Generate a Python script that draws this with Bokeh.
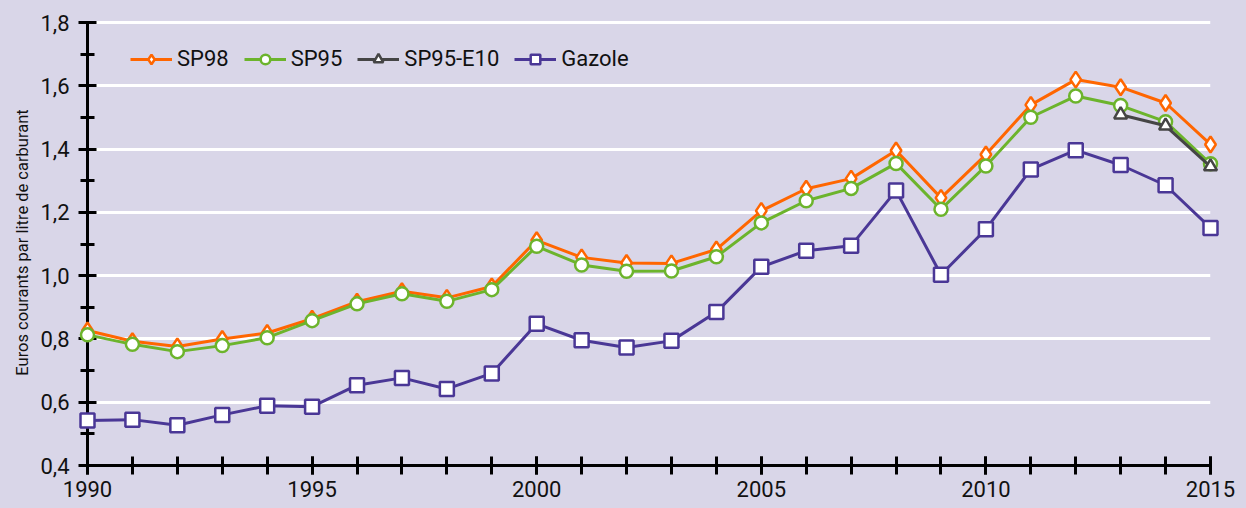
from bokeh.plotting import figure
from bokeh.models import (SingleIntervalTicker, CustomJSTickFormatter, Legend, LegendItem,
                          Range1d, GlobalInlineStyleSheet)
from bokeh.embed import file_html
from bokeh.resources import INLINE

years = list(range(1990, 2016))
sp98 = [0.827, 0.793, 0.776, 0.800, 0.819, 0.864, 0.918, 0.951, 0.930, 0.966,
        1.112, 1.058, 1.040, 1.039, 1.083, 1.205, 1.275, 1.307, 1.396, 1.246,
        1.383, 1.540, 1.620, 1.596, 1.546, 1.415]
sp95 = [0.813, 0.783, 0.760, 0.779, 0.804, 0.858, 0.911, 0.943, 0.919, 0.956,
        1.093, 1.034, 1.014, 1.015, 1.060, 1.167, 1.237, 1.276, 1.355, 1.210,
        1.347, 1.501, 1.568, 1.538, 1.487, 1.354]
e10_years = [2013, 2014, 2015]
sp95_e10 = [1.509, 1.474, 1.345]
gazole = [0.542, 0.545, 0.527, 0.560, 0.589, 0.586, 0.654, 0.677, 0.642, 0.691,
          0.848, 0.796, 0.773, 0.794, 0.885, 1.028, 1.079, 1.095, 1.269, 1.003,
          1.147, 1.336, 1.397, 1.350, 1.286, 1.151]
series_names = ["SP98", "SP95", "SP95-E10", "Gazole"]
y_label = "Euros courants par litre de carburant"

BG = "#D9D6E8"
FONT = "Roboto"
TXT = "#111111"

p = figure(width=1230, height=498, output_backend="svg", toolbar_location=None,
           x_range=Range1d(1990, 2015), y_range=Range1d(0.4, 1.81),
           min_border_left=79, min_border_right=28, min_border_top=11, min_border_bottom=41,
           background_fill_color=BG, border_fill_color=BG, outline_line_color=None)
p.stylesheets = [GlobalInlineStyleSheet(
    css="html, body { background: #D9D6E8; overflow: hidden; } body { margin: 8px 8px 0 8px; }")]

# grid
p.xgrid.grid_line_color = None
p.ygrid.grid_line_color = "white"
p.ygrid.grid_line_width = 3

# axes
xa = p.xaxis[0]
xa.ticker = SingleIntervalTicker(interval=5, num_minor_ticks=5)
xa.bounds = (1990, 2015)
ya = p.yaxis[0]
ya.ticker = SingleIntervalTicker(interval=0.2, num_minor_ticks=2)
ya.bounds = (0.4, 1.8)
ya.formatter = CustomJSTickFormatter(code="return tick.toFixed(1).replace('.', ',');")
for ax in (xa, ya):
    ax.axis_line_color = "black"
    ax.axis_line_width = 3
    ax.major_tick_line_color = "black"
    ax.major_tick_line_width = 3
    ax.minor_tick_line_color = "black"
    ax.minor_tick_line_width = 3
    ax.major_tick_in = 9
    ax.major_tick_out = 9
    ax.major_label_text_font = FONT
    ax.major_label_text_font_size = "22px"
    ax.major_label_text_color = TXT
xa.minor_tick_in = 9
xa.minor_tick_out = 9
xa.major_label_standoff = 6
ya.minor_tick_in = 7
ya.minor_tick_out = 7
ya.major_label_standoff = 9
ya.axis_label = y_label
ya.axis_label_text_font = FONT
ya.axis_label_text_font_size = "16.5px"
ya.axis_label_text_font_style = "normal"
ya.axis_label_text_color = TXT
ya.axis_label_standoff = 5

ORANGE = "#FF6600"
GREEN = "#6CB42C"
GREY = "#454545"
PURPLE = "#4A3796"

l1 = p.line(years, sp98, line_color=ORANGE, line_width=3, level="overlay")
m1 = p.scatter(years, sp98, marker="diamond", size=16, line_color=ORANGE, line_width=2.5,
               fill_color="white", level="overlay")
l2 = p.line(years, sp95, line_color=GREEN, line_width=3, level="overlay")
m2 = p.scatter(years, sp95, marker="circle", size=13, line_color=GREEN, line_width=2.5,
               fill_color="white", level="overlay")
l3 = p.line(e10_years, sp95_e10, line_color=GREY, line_width=3, level="overlay")
m3 = p.scatter(e10_years, sp95_e10, marker="triangle", size=13, line_color=GREY, line_width=2.5,
               fill_color="white", level="overlay")
l4 = p.line(years, gazole, line_color=PURPLE, line_width=3, level="overlay")
m4 = p.scatter(years, gazole, marker="square", size=14, line_color=PURPLE, line_width=2.5,
               fill_color="white", level="overlay")

legend = Legend(items=[LegendItem(label=series_names[0], renderers=[l1, m1]),
                       LegendItem(label=series_names[1], renderers=[l2, m2]),
                       LegendItem(label=series_names[2], renderers=[l3, m3]),
                       LegendItem(label=series_names[3], renderers=[l4, m4])],
                orientation="horizontal", location=(43, 394),
                background_fill_alpha=0, border_line_color=None,
                padding=0, margin=0, spacing=15, label_standoff=5,
                glyph_width=42, glyph_height=24, label_height=24,
                label_text_font=FONT, label_text_font_size="22px", label_text_color=TXT)
p.add_layout(legend, "center")

open("out.html", "w").write(file_html(p, INLINE))
